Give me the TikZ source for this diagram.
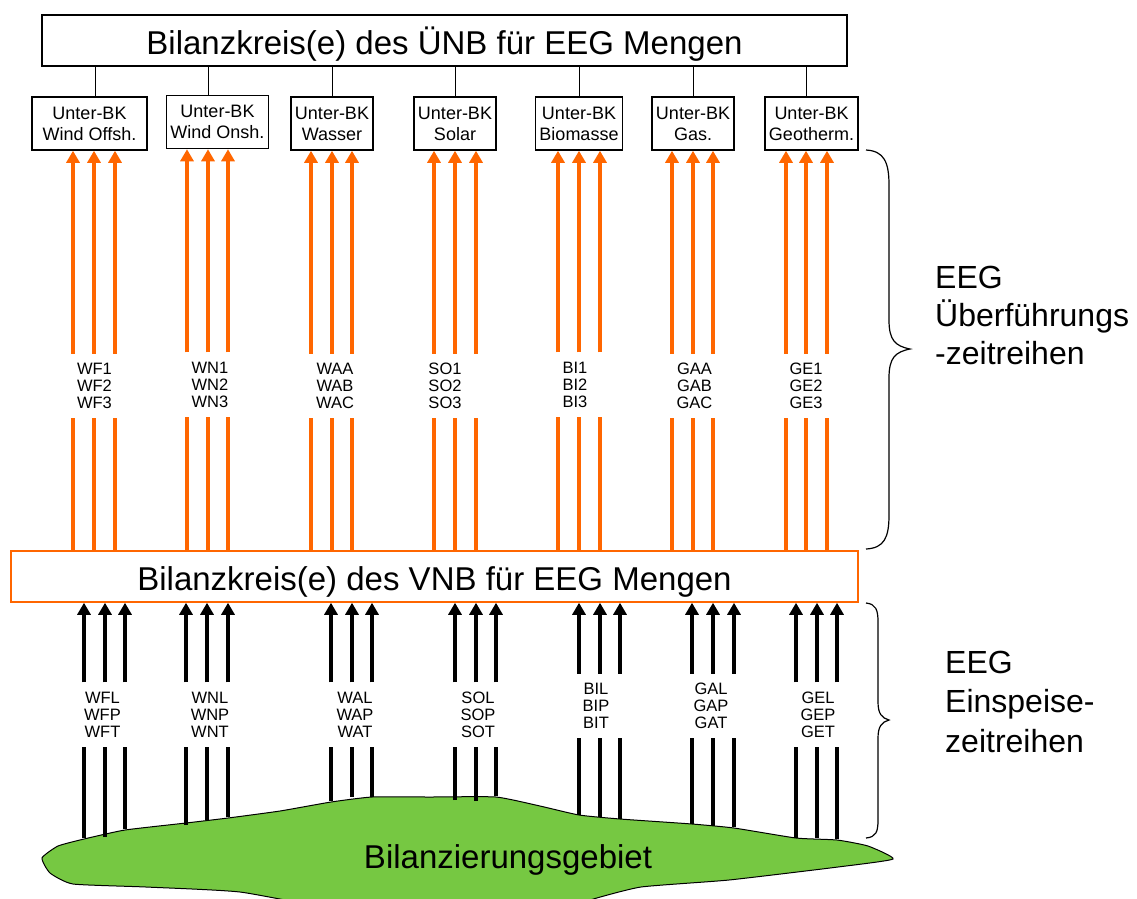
\documentclass[tikz,border=0pt]{standalone}
\usepackage{fontspec}
\setmainfont{Liberation Sans}
\usetikzlibrary{arrows.meta}
\definecolor{eegorange}{RGB}{255,102,0}
\definecolor{gebietgruen}{RGB}{118,200,66}

\begin{document}
\begin{tikzpicture}[x=1pt, y=-1pt,
  bkbox/.style={draw, line width=1.5pt, minimum width=805pt, minimum height=51pt,
    text height=27pt, text depth=0pt, font=\fontsize{33}{40}\selectfont},
  ubk/.style={draw, line width=1.5pt, align=center, inner xsep=4pt, minimum width=82pt,
    minimum height=53pt, font=\fontsize{18}{21}\selectfont},
  zr/.style={align=center, inner sep=0pt, minimum height=64pt, font=\fontsize{16.5}{17}\selectfont},
  oline/.style={eegorange, line width=3.4pt},
  oarr/.style={oline, -{Triangle[length=12pt, width=13pt]}},
  kline/.style={black, line width=3.4pt},
  karr/.style={kline, -{Triangle[length=12pt, width=13pt]}},
  klammer/.style={line width=1.2pt},
  seite/.style={align=left, inner sep=0pt, anchor=north west}]
  \useasboundingbox (0,0) rectangle (1137,898);
  \clip (0,0) rectangle (1137,898);

  % 平衡区域（绿色）
  \draw[fill=gebietgruen, line width=1pt] plot[smooth cycle, tension=0.3] coordinates {
    (42,858) (58,846) (84,839) (125,830) (186,823) (228,818) (280,811) (331,802)
    (372,797) (430,797) (496,797) (540,806) (579,815) (620,819) (692,824) (734,828)
    (796,838) (837,840) (868,846) (893,859) (838,867) (729,880) (641,887) (590,900)
    (560,912) (360,912) (240,892) (146,887) (73,884) (50,873)};
  \node[font=\fontsize{33}{40}\selectfont] (gebiet) at (508,859.5) {Bilanzierungsgebiet};

  % 两个平衡圈
  \node[bkbox] (uenb) at (444.5,40.5) {Bilanzkreis(e) des ÜNB für EEG Mengen};
  \node[bkbox, draw=eegorange, minimum width=847pt] (vnb) at (434.5,576.5)
    {Bilanzkreis(e) des VNB für EEG Mengen};

  % 子平衡圈
  \node[ubk, minimum width=115pt] (ubk1) at (89.5,123.5) {Unter-BK\\Wind Offsh.};
  \node[ubk] (ubk2) at (217.5,122) {Unter-BK\\Wind Onsh.};
  \node[ubk] (ubk3) at (332,123.5) {Unter-BK\\Wasser};
  \node[ubk] (ubk4) at (455,123.5) {Unter-BK\\Solar};
  \node[ubk] (ubk5) at (579,123.5) {Unter-BK\\Biomasse};
  \node[ubk] (ubk6) at (693,123.5) {Unter-BK\\Gas.};
  \node[ubk] (ubk7) at (811.5,123.5) {Unter-BK\\Geotherm.};

  \draw (uenb.south -| 95,0) -- (ubk1.north -| 95,0);
  \draw (uenb.south -| 208,0) -- (ubk2.north -| 208,0);
  \draw (uenb.south -| 332,0) -- (ubk3.north -| 332,0);
  \draw (uenb.south -| 455,0) -- (ubk4.north -| 455,0);
  \draw (uenb.south -| 579,0) -- (ubk5.north -| 579,0);
  \draw (uenb.south -| 693,0) -- (ubk6.north -| 693,0);
  \draw (uenb.south -| 806,0) -- (ubk7.north -| 806,0);

  % 转移时间序列（橙色）
  \node[zr] (ue1) at (94.5,386) {WF1\\WF2\\WF3};
  \node[zr] (ue2) at (210,384.5) {WN1\\WN2\\WN3};
  \node[zr] (ue3) at (335,386) {WAA\\WAB\\WAC};
  \node[zr] (ue4) at (445,386) {SO1\\SO2\\SO3};
  \node[zr] (ue5) at (575,384.5) {BI1\\BI2\\BI3};
  \node[zr] (ue6) at (694.5,386) {GAA\\GAB\\GAC};
  \node[zr] (ue7) at (806,386) {GE1\\GE2\\GE3};

  \foreach \x in {73,94,115} {\draw[oline] (vnb.north -| \x,0) -- (ue1.south -| \x,0);
    \draw[oarr] (ue1.north -| \x,0) -- (ubk1.south -| \x,0);}
  \foreach \x in {187,208,228} {\draw[oline] (vnb.north -| \x,0) -- (ue2.south -| \x,0);
    \draw[oarr] (ue2.north -| \x,0) -- (ubk2.south -| \x,0);}
  \foreach \x in {311,332,352} {\draw[oline] (vnb.north -| \x,0) -- (ue3.south -| \x,0);
    \draw[oarr] (ue3.north -| \x,0) -- (ubk3.south -| \x,0);}
  \foreach \x in {434,455,476} {\draw[oline] (vnb.north -| \x,0) -- (ue4.south -| \x,0);
    \draw[oarr] (ue4.north -| \x,0) -- (ubk4.south -| \x,0);}
  \foreach \x in {558,579,600} {\draw[oline] (vnb.north -| \x,0) -- (ue5.south -| \x,0);
    \draw[oarr] (ue5.north -| \x,0) -- (ubk5.south -| \x,0);}
  \foreach \x in {672,693,713} {\draw[oline] (vnb.north -| \x,0) -- (ue6.south -| \x,0);
    \draw[oarr] (ue6.north -| \x,0) -- (ubk6.south -| \x,0);}
  \foreach \x in {786,806,827} {\draw[oline] (vnb.north -| \x,0) -- (ue7.south -| \x,0);
    \draw[oarr] (ue7.north -| \x,0) -- (ubk7.south -| \x,0);}

  % 馈入时间序列（黑色）
  \node[zr] (ein1) at (102.5,714.5) {WFL\\WFP\\WFT};
  \node[zr] (ein2) at (210,714.5) {WNL\\WNP\\WNT};
  \node[zr] (ein3) at (355,714.5) {WAL\\WAP\\WAT};
  \node[zr] (ein4) at (478,714.5) {SOL\\SOP\\SOT};
  \node[zr] (ein5) at (596,706) {BIL\\BIP\\BIT};
  \node[zr] (ein6) at (711,706) {GAL\\GAP\\GAT};
  \node[zr] (ein7) at (818,714.5) {GEL\\GEP\\GET};

  \foreach \x/\y in {84/838,105/837,125/829} {\coordinate (fuss) at (\x,\y);
    \draw[kline] (fuss) -- (ein1.south -| fuss); \draw[karr] (ein1.north -| fuss) -- (vnb.south -| fuss);}
  \foreach \x/\y in {186/825,207/820,228/817} {\coordinate (fuss) at (\x,\y);
    \draw[kline] (fuss) -- (ein2.south -| fuss); \draw[karr] (ein2.north -| fuss) -- (vnb.south -| fuss);}
  \foreach \x/\y in {331/801,352/797,372/797} {\coordinate (fuss) at (\x,\y);
    \draw[kline] (fuss) -- (ein3.south -| fuss); \draw[karr] (ein3.north -| fuss) -- (vnb.south -| fuss);}
  \foreach \x/\y in {455/800,476/801,496/796} {\coordinate (fuss) at (\x,\y);
    \draw[kline] (fuss) -- (ein4.south -| fuss); \draw[karr] (ein4.north -| fuss) -- (vnb.south -| fuss);}
  \foreach \x/\y in {579/815,600/817,620/819} {\coordinate (fuss) at (\x,\y);
    \draw[kline] (fuss) -- (ein5.south -| fuss); \draw[karr] (ein5.north -| fuss) -- (vnb.south -| fuss);}
  \foreach \x/\y in {692/824,713/826,734/827} {\coordinate (fuss) at (\x,\y);
    \draw[kline] (fuss) -- (ein6.south -| fuss); \draw[karr] (ein6.north -| fuss) -- (vnb.south -| fuss);}
  \foreach \x/\y in {796/838,817/838,837/839} {\coordinate (fuss) at (\x,\y);
    \draw[kline] (fuss) -- (ein7.south -| fuss); \draw[karr] (ein7.north -| fuss) -- (vnb.south -| fuss);}

  % 右侧大括号
  \draw[klammer] (866,150) .. controls (884,151) and (889,162) .. (889,185) -- (889,320)
    .. controls (889,340) and (895,346) .. (910,349) .. controls (895,352) and (889,358) .. (889,378)
    -- (889,515) .. controls (889,538) and (884,548) .. (866,549);
  \draw[klammer] (866,603) .. controls (876,604) and (878,610) .. (878,622) -- (878,702)
    .. controls (878,714) and (882,718) .. (889,720) .. controls (882,722) and (878,726) .. (878,738)
    -- (878,820) .. controls (878,832) and (876,837) .. (866,838);

  \node[seite, font=\fontsize{32}{38}\selectfont] (ueb) at (935,265.5)
    {EEG\\Überführungs\\-zeitreihen};
  \node[seite, font=\fontsize{32}{39.5}\selectfont] (einsp) at (945,650.5)
    {EEG\\Einspeise-\\zeitreihen};
\end{tikzpicture}
\end{document}
